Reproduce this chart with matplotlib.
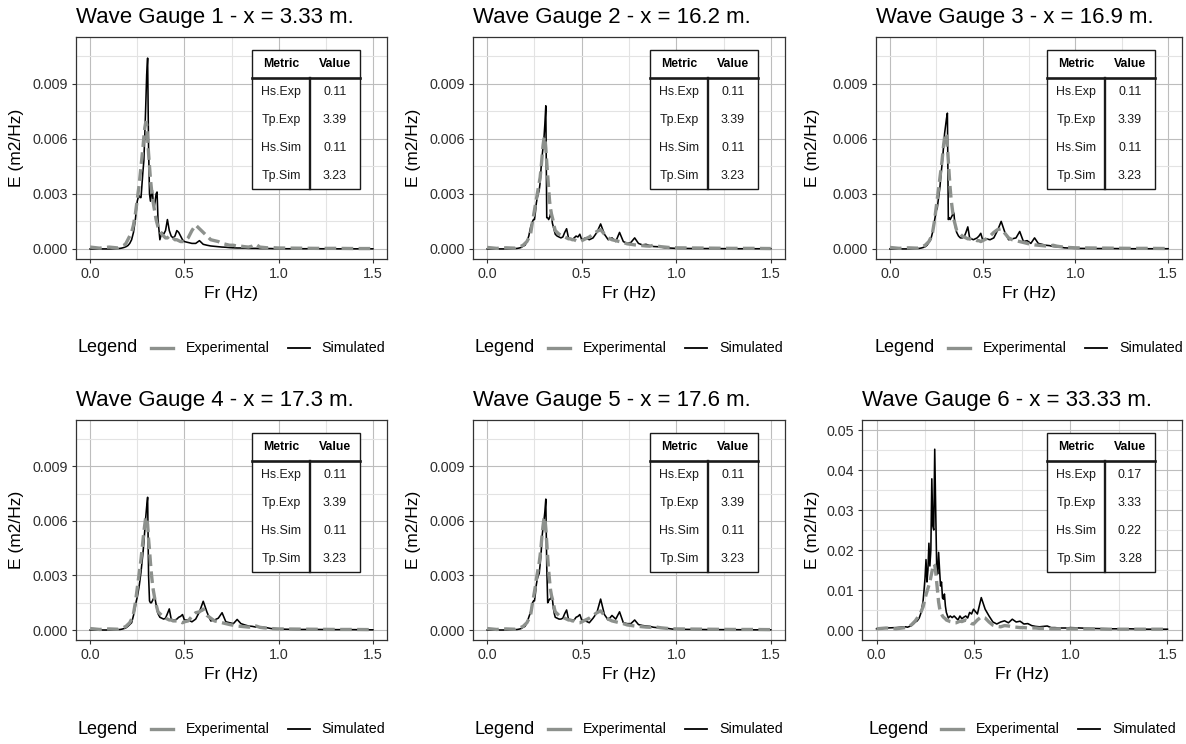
import numpy as np
import matplotlib
matplotlib.use("Agg")
import matplotlib.pyplot as plt
from matplotlib.lines import Line2D
from matplotlib.patches import Rectangle
from matplotlib.transforms import Affine2D
from matplotlib.ticker import MultipleLocator, FormatStrFormatter

plt.rcParams['font.family'] = ['Liberation Sans', 'DejaVu Sans']

# frequency grid (Hz), shared by all gauges
freq = [0.00, 0.05, 0.10, 0.15,
        0.16, 0.17, 0.18, 0.19, 0.20, 0.21, 0.22, 0.23,
        0.240, 0.245, 0.250, 0.255, 0.260, 0.265, 0.270, 0.275, 0.280, 0.285,
        0.290, 0.295, 0.300, 0.305, 0.310, 0.315, 0.320, 0.325, 0.330, 0.335,
        0.340, 0.345, 0.350, 0.355, 0.360,
        0.37, 0.38, 0.39, 0.40, 0.41, 0.42, 0.43, 0.44, 0.45, 0.46, 0.47, 0.48, 0.49, 0.50,
        0.52, 0.54, 0.56, 0.58, 0.60, 0.62, 0.64, 0.66, 0.68, 0.70, 0.72, 0.74, 0.76,
        0.78, 0.80, 0.82, 0.84, 0.86, 0.88, 0.90, 0.92, 0.94, 0.96, 0.98, 1.00,
        1.10, 1.20, 1.30, 1.40, 1.50]

# spectra, gauges 1-5 in 1e-4 m2/Hz, gauge 6 in 1e-3 m2/Hz
sim_g1 = [0, 0, 0, 0.2,
          0.3, 0.5, 0.8, 1.2, 1.8, 3, 5, 9,
          16, 21, 26, 28, 29, 28, 28, 35, 42, 48, 62, 78, 95, 104, 55, 30, 26, 30, 32, 25, 23, 26, 30, 31, 16,
          5, 9, 8, 10, 16, 10, 7, 6, 7, 10, 9, 7, 5, 4,
          3.5, 3, 3, 4.5, 2.5, 2, 1.6, 1.4, 1.2, 1, 0.9, 0.7, 0.6, 0.5, 0.5, 0.4, 0.3, 0.3, 0.3, 0.2, 0.2, 0.2, 0.2, 0.1, 0.1,
          0.1, 0.1, 0.05, 0.05, 0.05]
exp_g1 = [1, 0.4, 1, 0.5,
          1, 1.5, 2, 3, 5, 7, 9, 13,
          19, 23, 27, 31, 35, 40, 45, 50, 55, 61, 66, 69, 68, 60, 52, 45, 38, 33, 28, 25, 22, 19, 16, 14, 12,
          10, 8, 7, 6, 6, 7, 6, 6, 5, 5, 4.5, 4, 4, 4,
          6, 10, 13, 11, 9, 7, 5, 4.5, 4, 3, 2.5, 2, 2, 1.5, 1.5, 1.2, 1, 1.5, 2.5, 1, 0.8, 0.6, 0.8, 0.6, 0.5,
          0.4, 0.3, 0.3, 0.2, 0.2]

sim_g2 = [0, 0, 0, 0.2,
          0.3, 0.5, 0.8, 1.5, 2, 4, 7, 12,
          15, 16, 16, 20, 25, 28, 30, 32, 36, 44, 50, 55, 60, 68, 78, 17, 17, 16, 17, 19, 18, 14, 12, 10, 8,
          7, 6.5, 6, 6.5, 9, 11, 6, 5.5, 5, 6, 7, 6.5, 8, 5,
          6, 5, 6, 9, 13.6, 8, 5, 6, 4, 9, 4, 3, 3.5, 6, 3, 2.2, 2.5, 1.8, 1.3, 1.2, 1, 0.6, 0.5, 0.4, 0.3,
          0.2, 0.2, 0.1, 0.1, 0.1]
exp_g2 = [0.8, 0.3, 0.6, 0.4,
          0.8, 1, 1.5, 2, 3, 4, 6, 8.5,
          15, 18, 21, 24, 27, 30, 33, 36, 39, 44, 50, 56, 60, 61, 55, 47, 40, 33, 26, 22, 19, 17, 15, 12, 10,
          9, 8, 7.5, 7, 6.5, 6, 5.5, 5.5, 5, 5, 4.5, 4, 4, 4.5,
          5.5, 6.5, 8, 9.5, 10.5, 8, 6, 5, 4.5, 4, 3.5, 2.8, 2.5, 2.2, 2, 1.8, 1.6, 1.5, 2, 1.5, 1.2, 1, 0.8, 0.7, 0.6,
          0.5, 0.4, 0.3, 0.3, 0.2]

sim_g3 = [0, 0, 0, 0.2,
          0.3, 0.5, 0.8, 1.2, 2, 3.5, 5, 9,
          15, 18, 21, 22, 26, 30, 34, 40, 45, 50, 57, 63, 67, 71, 74, 16, 17, 16, 17, 18, 19, 19.5, 14, 11, 9,
          7, 6, 6, 6.5, 9, 12, 6, 5.5, 5, 5.5, 6, 7, 8.5, 5,
          5.5, 5, 6, 10, 15, 9, 5, 5.5, 6, 9.5, 4, 4.5, 3, 6, 3, 2.5, 2, 1.8, 1.3, 1.2, 1, 0.6, 0.5, 0.4, 0.3,
          0.2, 0.2, 0.1, 0.1, 0.1]
exp_g3 = [0.8, 0.3, 0.6, 0.4,
          0.8, 1, 1.5, 2, 3, 4, 6, 9,
          15, 19, 23, 27, 31, 35, 39, 43, 47, 52, 57, 61, 63, 62, 56, 48, 40, 33, 27, 23, 19, 16, 14, 12, 10,
          9, 8, 7, 6.5, 6, 5.5, 5.5, 5, 5, 5, 4.5, 4.5, 4, 4.5,
          5.5, 7, 9, 10.5, 11, 8.5, 6, 5, 4.5, 4, 3.5, 3, 2.5, 2.2, 2, 1.8, 1.6, 1.5, 2, 1.5, 1.2, 1, 0.8, 0.7, 0.6,
          0.5, 0.4, 0.3, 0.3, 0.2]

sim_g4 = [0, 0, 0, 0.2,
          0.3, 0.5, 0.8, 1.2, 2, 3, 4, 8,
          13, 16, 18, 21, 24, 28, 32, 37, 42, 48, 55, 62, 68, 73, 30, 16, 15, 15, 16, 17, 18.5, 17, 14, 11, 9,
          7, 6.5, 6, 6.5, 9, 11.6, 6, 5.5, 5.5, 6, 7, 7.5, 8.5, 5.5,
          5.5, 4.5, 6, 10, 15.8, 9.8, 5, 5.5, 6.5, 9.5, 4.5, 4, 3.5, 5.8, 3.5, 2.8, 2.2, 2, 1.6, 1.5, 1.5, 1.2, 0.8, 0.6, 0.5,
          0.3, 0.3, 0.2, 0.2, 0.1]
exp_g4 = [0.8, 0.3, 0.6, 0.4,
          0.8, 1, 1.5, 2, 3, 4, 6, 9,
          15, 19, 23, 27, 31, 35, 39, 44, 49, 54, 58, 62, 62, 58, 50, 44, 37, 31, 26, 22, 19, 16, 14, 12, 10,
          9, 8, 7, 6.5, 6, 5.5, 5.5, 5, 5, 5, 4.5, 4.5, 4, 4.5,
          5, 7.5, 9.5, 10, 11.5, 8, 6.5, 5, 4.5, 4, 3.5, 3, 2.6, 2.2, 2, 1.8, 1.6, 1.6, 2.2, 1.5, 1.2, 1, 0.8, 0.7, 0.6,
          0.5, 0.4, 0.3, 0.3, 0.2]

sim_g5 = [0, 0, 0, 0.2,
          0.3, 0.5, 0.8, 1.5, 2, 4, 7, 10,
          15, 16, 16, 20, 25, 28, 30, 31, 36, 42, 51, 56, 60, 65, 72, 35, 15, 16, 17, 17, 18.5, 17, 12, 9, 7,
          6.5, 6, 6, 6.5, 9, 11, 6, 5.5, 5.5, 5.5, 7, 7.5, 8.5, 5.5,
          5, 4, 6.5, 9.5, 17, 8.5, 5.5, 8, 6, 10, 4, 3.5, 3.5, 5.5, 3, 2.5, 2.2, 2, 1.5, 1.3, 1.2, 1, 0.8, 0.5, 0.4,
          0.3, 0.2, 0.2, 0.1, 0.1]
exp_g5 = [0.8, 0.3, 0.6, 0.4,
          0.8, 1, 1.5, 2, 3, 4, 6, 8.5,
          15, 18, 21, 24, 28, 31, 34, 37, 41, 46, 52, 57, 61, 62, 56, 48, 40, 33, 27, 22, 19, 17, 15, 12, 10,
          9, 8, 7.5, 7, 6.5, 6, 5.5, 5.5, 5, 5, 4.5, 4, 4, 4.5,
          5.5, 6.5, 8, 9.5, 10.5, 8, 6, 5, 4.5, 4, 3.5, 2.8, 2.5, 2.2, 2, 1.8, 1.6, 1.5, 2, 1.5, 1.2, 1, 0.8, 0.7, 0.6,
          0.5, 0.4, 0.3, 0.3, 0.2]

sim_g6 = [0.3, 0.5, 0.6, 0.8,
          0.7, 0.9, 1.1, 1.5, 2, 2.3, 3, 4.4,
          7.3, 10, 13, 17.6, 12, 15, 21.7, 16, 20, 37.8, 26, 25, 45.2, 30, 16, 14, 19.4, 15, 11, 12, 8, 7.7, 9, 6, 4.4,
          3, 3.5, 3.1, 3.5, 3, 2.5, 3.5, 2.8, 3.2, 3.5, 3, 4.4, 4, 5.2,
          4, 8.1, 5.2, 3.5, 2, 1.5, 2, 2.3, 1.8, 2.7, 2, 2.2, 1.5, 1.6, 1.1, 0.9, 0.8, 0.9, 1, 0.6, 0.6, 0.5, 0.5, 0.5, 0.6,
          0.4, 0.3, 0.3, 0.2, 0.2]
exp_g6 = [0.3, 0.5, 0.3, 0.6,
          0.7, 1, 1.3, 1.8, 2.3, 3, 3.8, 4.6,
          5.8, 6.8, 7.8, 8.8, 9.6, 10.4, 11.2, 12, 13.2, 14.4, 15.6, 16.5, 16.2, 14.5, 12, 9.5, 7, 5.5, 4.5, 4, 3.5, 3.2, 3, 2.8, 2.5,
          2.3, 2.1, 2, 1.8, 1.8, 2, 2.2, 2.1, 2.3, 2.5, 2.3, 2, 1.6, 1.5,
          2.5, 3.3, 3, 2, 1.2, 0.9, 0.8, 1.1, 1, 0.8, 0.7, 0.6, 0.6, 0.5, 0.5, 0.5, 0.4, 0.4, 0.4, 0.3, 0.3, 0.3, 0.3, 0.3, 0.3,
          0.3, 0.2, 0.2, 0.2, 0.2]

gauge_x = ["3.33", "16.2", "16.9", "17.3", "17.6", "33.33"]
hs_exp = ["0.11", "0.11", "0.11", "0.11", "0.11", "0.17"]
tp_exp = ["3.39", "3.39", "3.39", "3.39", "3.39", "3.33"]
hs_sim = ["0.11", "0.11", "0.11", "0.11", "0.11", "0.22"]
tp_sim = ["3.23", "3.23", "3.23", "3.23", "3.23", "3.28"]
metrics = ["Hs.Exp", "Tp.Exp", "Hs.Sim", "Tp.Sim"]

sims = [sim_g1, sim_g2, sim_g3, sim_g4, sim_g5, sim_g6]
exps = [exp_g1, exp_g2, exp_g3, exp_g4, exp_g5, exp_g6]
scales = [1e-4, 1e-4, 1e-4, 1e-4, 1e-4, 1e-3]

W, H = 1186, 744
fig = plt.figure(figsize=(W / 100, H / 100), dpi=100)
fig.patch.set_facecolor('white')
# pixel coords, origin top-left
px = Affine2D().scale(1.0 / W, -1.0 / H).translate(0, 1) + fig.transFigure

# plot boxes: left, right, top, bottom (pixels)
boxes = [(76, 387, 37, 259), (473, 785, 37, 259), (876, 1182, 37, 259),
         (76, 387, 420, 640), (473, 785, 420, 640), (862, 1182, 420, 640)]
col_x = [0, 397, 796, 0, 397, 796]

GREY = '#8d918d'
DARK = '#333333'

for i in range(6):
    l, r, t, b = boxes[i]
    ax = fig.add_axes([l / W, 1 - b / H, (r - l) / W, (b - t) / H])
    f = np.array(freq)
    ax.plot(f, np.array(sims[i]) * scales[i], color='black', lw=1.15, zorder=3)
    ax.plot(f, np.array(exps[i]) * scales[i], color=GREY, lw=2.4, dashes=(3.5, 1.6), zorder=4)

    ax.set_xlim(-0.075, 1.575)
    ax.xaxis.set_major_locator(MultipleLocator(0.5))
    ax.xaxis.set_minor_locator(MultipleLocator(0.25))
    ax.xaxis.set_major_formatter(FormatStrFormatter('%.1f'))
    if i < 5:
        ax.set_ylim(-0.00055, 0.01155)
        ax.yaxis.set_major_locator(MultipleLocator(0.003))
        ax.yaxis.set_minor_locator(MultipleLocator(0.0015))
        ax.yaxis.set_major_formatter(FormatStrFormatter('%.3f'))
    else:
        ax.set_ylim(-0.0025, 0.0525)
        ax.yaxis.set_major_locator(MultipleLocator(0.01))
        ax.yaxis.set_minor_locator(MultipleLocator(0.005))
        ax.yaxis.set_major_formatter(FormatStrFormatter('%.2f'))

    ax.set_axisbelow(True)
    ax.grid(which='major', color='#bdbdbd', lw=0.8)
    ax.grid(which='minor', color='#e3e3e3', lw=0.8)
    for s in ax.spines.values():
        s.set_color(DARK)
        s.set_linewidth(0.9)
    ax.tick_params(which='major', direction='out', length=3, width=0.8, color=DARK,
                   labelsize=10.3, labelcolor='#2e2e2e', pad=3)
    ax.tick_params(which='minor', length=0)

    ax.set_title("Wave Gauge %d - x = %s m." % (i + 1, gauge_x[i]), loc='left',
                 fontsize=16, pad=10)
    ax.set_xlabel('Fr (Hz)', fontsize=12.5)
    ax.set_ylabel('E (m2/Hz)', fontsize=12.5)
    ax.xaxis.set_label_coords(((l + r) / 2) / W, 1 - (b + 27) / H, transform=fig.transFigure)
    ax.yaxis.set_label_coords((col_x[i] + 24) / W, 1 - ((t + b) / 2) / H, transform=fig.transFigure)

    # metrics table
    tr = r - 27
    tt = t + 13
    tl = tr - 108
    tb = tt + 139
    hb = tt + 28
    dv = tl + 58
    fig.add_artist(Rectangle((tl, tt), 108, 139, transform=px, facecolor='white',
                             edgecolor='#1a1a1a', lw=1.0, zorder=5))
    fig.add_artist(Line2D([tl, tr], [hb, hb], transform=px, color='#1a1a1a', lw=1.9, zorder=6))
    fig.add_artist(Line2D([dv, dv], [hb, tb], transform=px, color='#1a1a1a', lw=1.7, zorder=6))
    fig.text(tl + 29, tt + 14, 'Metric', transform=px, ha='center', va='center',
             fontsize=8.8, fontweight='bold', zorder=7)
    fig.text(dv + 25, tt + 14, 'Value', transform=px, ha='center', va='center',
             fontsize=8.8, fontweight='bold', zorder=7)
    vals = [hs_exp[i], tp_exp[i], hs_sim[i], tp_sim[i]]
    for k in range(4):
        yy = hb + 14 + 28 * k
        fig.text(tl + 29, yy, metrics[k], transform=px, ha='center', va='center',
                 fontsize=8.9, color='#1a1a1a', zorder=7)
        fig.text(dv + 25, yy, vals[k], transform=px, ha='center', va='center',
                 fontsize=8.9, color='#1a1a1a', zorder=7)

    # legend below the panel
    ly = b + 89
    x0 = (l + r) / 2 - 154
    fig.text(x0, ly, 'Legend', transform=px, ha='left', va='center', fontsize=13)
    fig.add_artist(Line2D([x0 + 73, x0 + 95], [ly, ly], transform=px, color=GREY, lw=2.4))
    fig.text(x0 + 108, ly, 'Experimental', transform=px, ha='left', va='center', fontsize=10.3)
    fig.add_artist(Line2D([x0 + 210, x0 + 232], [ly, ly], transform=px, color='black', lw=1.3))
    fig.text(x0 + 244, ly, 'Simulated', transform=px, ha='left', va='center', fontsize=10.3)

fig.savefig('out.png', dpi=100)
